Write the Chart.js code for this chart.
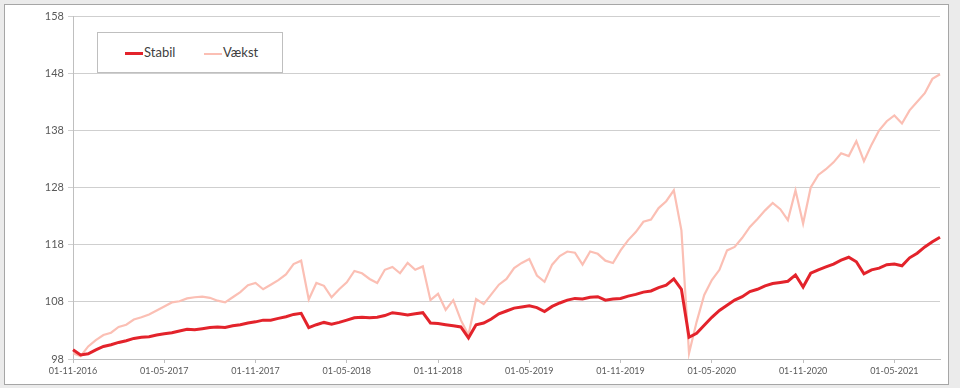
<!DOCTYPE html>
<html>
<head>
<meta charset="utf-8">
<script src="https://cdn.jsdelivr.net/npm/chart.js@4.4.1/dist/chart.umd.min.js"></script>
<style>
    body { margin: 0; background: #ebebeb; font-family: Lato, "Liberation Sans", sans-serif; }
    #frame { position: absolute; left: 4px; top: 4px; width: 943px; height: 379px; background: #fff; border: 1px solid #a6a6a6; }
    #wrap { position: absolute; left: 0; top: 0; width: 960px; height: 388px; }
    #legend { position: absolute; left: 97px; top: 32px; width: 184px; height: 39px; border: 1px solid #bfbfbf; background: #fff; font-size: 13px; color: #404040; }
    .item { position: absolute; top: 11px; line-height: 16px; }
    .swatch { display: inline-block; width: 18px; vertical-align: middle; margin-right: 1px; }
</style>
</head>
<body>
<div id="frame"></div>
<div id="wrap"><canvas id="valueChart" width="960" height="388"></canvas></div>
<div id="legend">
    <div class="item" style="left: 27px;"><span class="swatch" style="border-top: 3px solid #e3232b;"></span>Stabil</div>
    <div class="item" style="left: 106px;"><span class="swatch" style="border-top: 2px solid #fbbfb4;"></span>Vækst</div>
</div>
<script>
    // half-monthly points, 01-11-2016 .. 01-08-2021
    const dates = [];
    for (let k = 0; k <= 114; k++) {
        const m = 10 + Math.floor(k / 2);
        const year = 2016 + Math.floor(m / 12);
        const month = String(m % 12 + 1).padStart(2, '0');
        dates.push(`${k % 2 === 0 ? '01' : '16'}-${month}-${year}`);
    }

    const tickLabels = ['01-11-2016', '01-05-2017', '01-11-2017', '01-05-2018', '01-11-2018',
        '01-05-2019', '01-11-2019', '01-05-2020', '01-11-2020', '01-05-2021'];
    const yTicks = [98, 108, 118, 128, 138, 148, 158];

    const stabil = [
        99.6, 98.7, 98.9, 99.6, 100.2, 100.5, 100.9, 101.2, 101.6, 101.8,
        101.9, 102.2, 102.4, 102.6, 102.9, 103.2, 103.1, 103.3, 103.5, 103.6,
        103.5, 103.8, 104.0, 104.3, 104.5, 104.8, 104.8, 105.1, 105.4, 105.8,
        106.0, 103.5, 104.0, 104.4, 104.1, 104.4, 104.8, 105.2, 105.3, 105.2,
        105.3, 105.6, 106.1, 105.9, 105.7, 105.9, 106.1, 104.3, 104.2, 104.0,
        103.8, 103.6, 101.7, 104.0, 104.3, 105.0, 105.9, 106.4, 106.9, 107.1,
        107.3, 107.0, 106.3, 107.2, 107.8, 108.3, 108.6, 108.5, 108.8, 108.9,
        108.3, 108.5, 108.6, 109.0, 109.3, 109.7, 109.9, 110.5, 110.9, 112.0,
        110.2, 101.8, 102.5, 103.9, 105.3, 106.5, 107.4, 108.3, 108.9, 109.8,
        110.2, 110.8, 111.2, 111.4, 111.6, 112.7, 110.6, 113.0, 113.6, 114.1,
        114.6, 115.3, 115.8, 115.0, 112.9, 113.6, 113.9, 114.5, 114.6, 114.3,
        115.7, 116.5, 117.6, 118.5, 119.3
    ];

    const vaekst = [
        99.0, 98.5, 100.2, 101.3, 102.2, 102.6, 103.6, 104.0, 104.9, 105.3,
        105.8, 106.5, 107.2, 107.9, 108.1, 108.6, 108.8, 108.9, 108.7, 108.2,
        107.9, 108.8, 109.7, 110.9, 111.3, 110.2, 111.0, 111.8, 112.8, 114.6,
        115.2, 108.4, 111.3, 110.8, 108.8, 110.2, 111.4, 113.4, 113.0, 112.0,
        111.3, 113.6, 114.1, 113.0, 114.8, 113.6, 114.2, 108.3, 109.4, 106.6,
        108.3, 104.8, 102.2, 108.5, 107.6, 109.3, 111.0, 112.0, 113.9, 114.8,
        115.5, 112.6, 111.5, 114.5, 116.0, 116.8, 116.6, 114.5, 116.8, 116.4,
        115.2, 114.8, 117.0, 118.8, 120.2, 122.0, 122.4, 124.4, 125.6, 127.5,
        120.5, 99.0, 104.5, 109.2, 111.8, 113.6, 117.0, 117.6, 119.2, 121.1,
        122.5, 124.0, 125.3, 124.2, 122.3, 127.5, 121.7, 128.0, 130.2, 131.2,
        132.4, 134.0, 133.5, 136.1, 132.6, 135.5, 138.0, 139.6, 140.6, 139.2,
        141.5, 143.0, 144.5, 147.0, 147.8
    ];

    const isTick = (i) => tickLabels.includes(dates[i]);

    new Chart(document.getElementById('valueChart').getContext('2d'), {
        type: 'line',
        data: {
            labels: dates,
            datasets: [
                { label: 'Stabil', data: stabil, borderColor: '#e3232b', borderWidth: 3, pointRadius: 0, tension: 0 },
                { label: 'Vækst', data: vaekst, borderColor: '#fbbfb4', borderWidth: 2.2, pointRadius: 0, tension: 0 }
            ]
        },
        options: {
            responsive: false,
            animation: false,
            layout: { padding: { left: 0, right: 20, top: 16, bottom: 0 } },
            scales: {
                x: {
                    afterFit: (s) => { s.height = 29; },
                    border: { color: '#bfbfbf' },
                    grid: {
                        drawOnChartArea: false,
                        tickLength: 4,
                        color: (c) => isTick(c.index) ? '#bfbfbf' : 'transparent'
                    },
                    ticks: {
                        autoSkip: false,
                        maxRotation: 0,
                        minRotation: 0,
                        padding: 3,
                        color: '#595959',
                        font: { family: 'Lato', size: 9 },
                        callback: (v, i) => isTick(i) ? dates[i] : ''
                    }
                },
                y: {
                    min: yTicks[0],
                    max: yTicks[yTicks.length - 1],
                    afterFit: (s) => { s.width = 73; },
                    border: { color: '#bfbfbf' },
                    grid: { color: '#cfcfcf', tickLength: 5 },
                    ticks: {
                        stepSize: 10,
                        padding: 4,
                        color: '#595959',
                        font: { family: 'Lato', size: 11 }
                    }
                }
            },
            plugins: {
                legend: { display: false },
                tooltip: { enabled: false }
            }
        }
    });
</script>
</body>
</html>
